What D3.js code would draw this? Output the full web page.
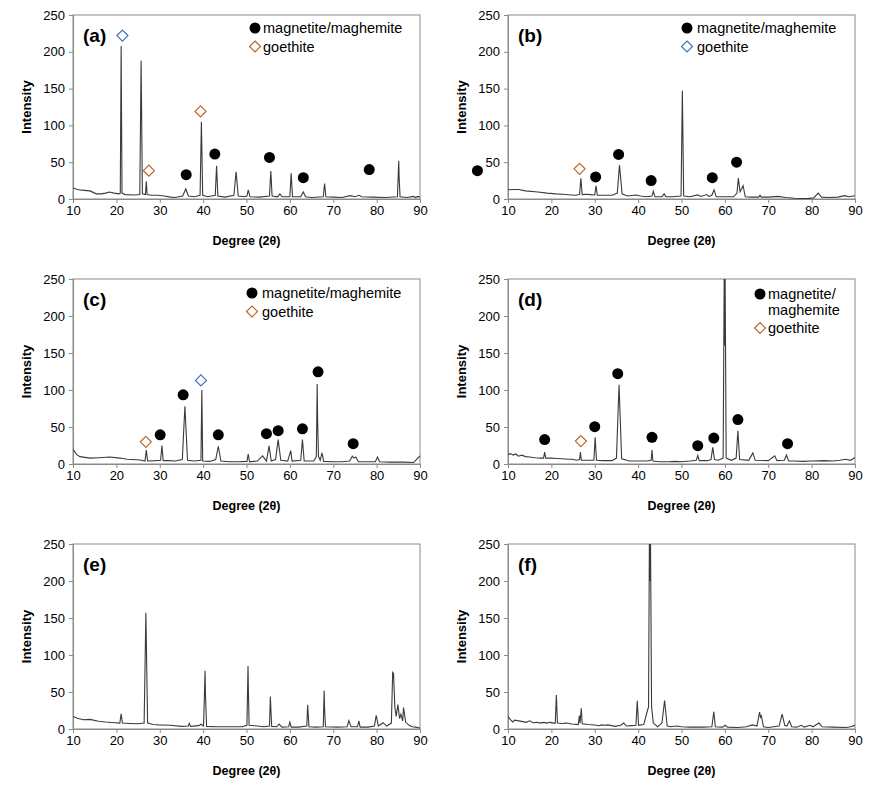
<!DOCTYPE html>
<html><head><meta charset="utf-8">
<script src="https://cdn.jsdelivr.net/npm/d3@7"></script>
<style>
body{margin:0;background:#fff}
svg{display:block}
text{font-family:Arial,"Liberation Sans",sans-serif}
</style>
</head><body>
<svg id="chart" width="878" height="796"></svg>
<script>
// ---------------- DATA ----------------
const panelIds = ["a", "b", "c", "d", "e", "f"];
const xTicks = [10, 20, 30, 40, 50, 60, 70, 80, 90];
const yTicks = [0, 50, 100, 150, 200, 250];
const xTitle = "Degree (2\u03b8)";
const yTitle = "Intensity";
const magLabel = "magnetite/maghemite";
const magLabelLines = ["magnetite/", "maghemite"];
const goeLabel = "goethite";

// XRD patterns: [2theta, intensity]
const patternA = [[10,15],[11,13],[12,12],[13.9,11],[15.4,7],[16.5,7],[17.5,8],[18.4,9.5],[19.5,8],[20.6,7],[20.9,8],[21.1,208],[21.3,8],[22,6],[24,5.5],[25.4,6],[25.7,188],[26,7],[26.7,6],[26.9,24],[27.1,6],[28,5],[29.5,5],[31,4],[32.5,2.5],[33.5,2],[35.3,4],[36,14],[36.6,4],[38,3],[39.3,5],[39.6,105],[39.9,5],[41,3],[42.8,5],[43.1,45],[43.4,4],[45,2.5],[47.1,5],[47.6,37],[48.1,4],[49.5,3],[50.1,4],[50.4,12.5],[50.8,3],[53,2.5],[55.3,4],[55.6,38],[55.9,4],[57.2,3],[57.7,7],[58.2,3],[60,3],[60.3,35],[60.6,3],[62.5,3],[63.1,9.5],[63.6,3],[65,2],[67.7,3],[68,21],[68.3,3],[70,2.5],[72,2],[73.9,4.5],[75,3],[76,5],[76.5,3],[79,2.5],[82,2],[84.8,3],[85.1,52],[85.2,28],[85.4,3],[87,2],[88.5,3.5],[89,2],[89.5,3.5],[90,2.5]];
const patternB = [[10,12.5],[11,13],[12.5,13],[14,11],[16.9,9.5],[19,8],[21,7],[22.5,6.5],[24.6,5.5],[25.5,5],[26.5,6],[26.8,28],[27.1,6],[28,6.5],[29,6],[30,5.5],[30.3,18],[30.6,5],[32,5],[34,5],[35.2,8],[35.7,46],[36.3,7],[37.5,4],[39.5,5.5],[40.5,4],[42,3],[43.2,4],[43.5,10.5],[43.9,3],[45.5,3],[46,7],[46.4,3],[48,3],[49.9,4],[50.2,147],[50.5,4],[52,3],[53.7,5.5],[54.5,3.5],[55.8,6],[56.3,3.5],[57,5],[57.5,12.5],[58,3],[60,3],[62,3],[62.8,8],[63.1,28.5],[63.5,10],[64.2,18],[64.7,3],[66,2.5],[67.8,2.5],[68.1,5],[68.4,2.5],[70,2.5],[72.3,3.5],[74,2],[76,1],[79,0.5],[80.5,1.5],[81.5,8],[82.3,2.5],[84,2],[86,2.5],[87.7,4.5],[88.5,3],[90,4.5]];
const patternC = [[10,20],[10.8,13],[11.6,10],[13.9,8],[16,8.5],[18.5,9.4],[20.8,8],[22.5,6.5],[24.6,5.8],[25.5,5.5],[26.6,4],[26.9,19],[27.2,4],[29,4.5],[30.2,5],[30.5,25],[30.8,4.5],[32,4.5],[33.5,4],[35.2,6],[35.8,78],[36.4,5],[38,4],[39.5,5],[39.7,100],[39.9,4],[41.5,3.5],[42.9,6],[43.5,24],[44.1,4],[46,3],[48,3],[50.1,3.5],[50.4,13.5],[50.7,3],[52.5,4],[53.7,11],[54.6,4],[55.2,24.5],[55.7,4],[56.7,6],[57.3,33],[57.9,5],[59.5,4],[60.2,18],[60.5,4],[62.5,5],[62.9,33],[63.3,4],[65.5,4],[66.1,10],[66.3,108],[66.4,58],[66.6,10],[67,5],[67.4,15],[67.8,3.5],[70,3],[72,3],[73.8,4],[74.4,10.5],[74.8,8],[75.2,9.5],[75.8,3],[79.7,3],[80.2,9.5],[80.7,3],[83,2.5],[86,2.5],[88.5,2],[90,11]];
const patternD = [[10,12.6],[10.6,14],[11.2,12],[11.8,13.5],[12.4,10.5],[13.2,12],[14,10],[15,9.5],[16.3,8.5],[17.5,8],[18.2,8],[18.45,16],[18.7,8],[20,8],[21.2,7.5],[22.5,7],[24,6.5],[24.8,6.5],[25.8,5],[26.5,6],[26.7,16],[26.9,5],[28,5],[29.8,5],[30.1,36],[30.4,5],[32,4.5],[34,4.5],[35,8],[35.6,107],[36.2,7],[38,4],[40,4],[42,4],[43,5],[43.2,19],[43.4,4],[45,3],[47,3],[48.5,3.5],[50,3],[52,4],[53.4,5],[53.75,11.5],[54.1,4.5],[56,4.5],[56.8,6],[57.2,22.5],[57.6,6],[58.5,5],[59.6,8],[59.85,260],[59.95,160],[60.05,260],[60.3,8],[61.5,5],[62.6,8],[63.0,45],[63.4,6],[65.5,5],[66.45,15],[67,5],[70,4.5],[71.5,11],[72,4.5],[73.7,5],[74.2,12],[74.7,4],[76,4],[78,3.5],[80,4],[83,4.5],[85,4],[86.5,5],[87.8,6.5],[89,5],[90,9]];
const patternE = [[10,17],[11,14.5],[12.4,12.5],[13.9,13],[15.9,10.5],[17.5,9.5],[19.7,8.5],[20.8,8],[21.1,20.6],[21.4,8],[23,7.5],[25,7],[26.4,8],[26.8,157],[27.2,8],[28.5,6],[30,5.5],[32.4,5],[35,3.6],[36.6,4],[36.8,7.6],[37.1,3.5],[39,4.5],[39.5,6.5],[40.1,4],[40.45,78.7],[40.55,45],[40.8,3.5],[43,3],[46,3],[49,3],[50.1,5],[50.35,85],[50.45,48],[50.6,5],[52,4.3],[54,3],[55.3,4],[55.5,44],[55.8,3.5],[57,3],[57.5,6.7],[58.2,2.5],[59.7,3],[60,9.4],[60.3,2.5],[62,2.5],[63.9,4],[64.1,32.8],[64.4,3],[66,2.5],[67.7,3],[67.9,52],[68.0,28],[68.2,3],[71,2.5],[73.2,3],[73.6,11.5],[74.1,3],[75.6,3],[75.9,11],[76.2,2.5],[78,2.5],[79.5,4],[79.9,18.4],[80.4,4],[81.5,8.5],[82.3,4],[83.4,8],[83.7,76.4],[83.9,75],[84.2,30],[84.5,17],[84.9,33],[85.3,14],[85.6,20],[86,11],[86.2,29],[86.7,9],[87.5,5],[88.2,3],[89,2.5],[90,1.4]];
const patternF = [[10,17],[10.5,13],[11.1,9.5],[11.6,12],[12.5,11],[13.4,10],[14.2,9],[15,11],[15.8,8.5],[16.7,9],[17.4,8],[18.2,9],[19,8],[19.7,9],[20.5,8],[20.9,8],[21.15,46],[21.4,8],[22.5,7.5],[23.5,8],[24.7,6.7],[26.2,6],[26.45,18],[26.6,8],[26.9,28],[27.1,7],[28.5,6],[30,5.5],[31,4.5],[31.5,5.5],[32.4,5],[33,5.5],[34.7,3.6],[36,5],[36.7,8],[37.3,4],[38.5,4.5],[39.5,5],[39.8,38],[40.1,5],[41.3,6],[42.1,24],[42.4,30],[42.6,260],[42.7,200],[42.85,260],[43.1,30],[43.5,8],[44.5,3],[45.5,8],[46.1,38.5],[46.7,4],[47.5,3],[49,4],[50,3],[52,2.5],[55,2.5],[57,3],[57.45,23.4],[57.8,3],[59.5,2.5],[60.1,5],[60.6,2.5],[63,2],[65,3],[66.3,5.5],[67.4,4],[68,23],[68.2,16],[68.4,18],[68.9,3],[70,2],[72.5,4],[73.2,20],[73.8,5],[74.3,4],[74.9,11],[75.4,3],[76.5,2.5],[77.6,5],[78.3,2.5],[79.7,5],[80.3,3],[81.7,8],[82.4,3],[85,2.5],[88,2],[89,3],[90,5]];

// magnetite/maghemite markers [2theta, intensity]
const magA = [[36.1,33],[42.7,61],[55.3,56.5],[63.1,29],[78.3,40]];
const magB = [[2.95,38.5],[30.2,30],[35.5,60.5],[43.0,25],[57.1,29],[62.7,50]];
const magC = [[30.1,39.5],[35.4,93.5],[43.5,39.5],[54.6,41],[57.3,45],[62.9,47.5],[66.5,124.5],[74.6,27.5]];
const magD = [[18.45,33],[30.0,50.5],[35.3,122],[43.2,36],[53.75,24.7],[57.45,35],[63.0,60],[74.45,27.5]];
const magE = [];
const magF = [];
// goethite markers [2theta, intensity]
const goeA = [[21.4,222],[27.5,38.5],[39.4,119]];
const goeB = [[26.5,41]];
const goeC = [[26.8,30],[39.5,113]];
const goeD = [[26.8,31]];
const goeE = [];
const goeF = [];

// ---------------- STYLE / LAYOUT ----------------
const patterns = {a: patternA, b: patternB, c: patternC, d: patternD, e: patternE, f: patternF};
const magMarks = {a: magA, b: magB, c: magC, d: magD, e: magE, f: magF};
const goeMarks = {a: goeA, b: goeB, c: goeC, d: goeD, e: goeE, f: goeF};
const ORANGE = "#b8662a", BLUE = "#3b72b8";
const goeTint = {a: [BLUE, ORANGE, ORANGE], b: [ORANGE], c: [ORANGE, BLUE], d: [ORANGE]};
const legendTint = {a: ORANGE, b: BLUE, c: ORANGE, d: ORANGE};
const cols = [{x0: 73, x1: 420, ytx: 26}, {x0: 508, x1: 855, ytx: 461}];
const rows = [{top: 15, bot: 199}, {top: 279, bot: 464}, {top: 544, bot: 729}];
const legendPos = {
  a: {x: 255, y: 28, tx: 263, two: false},
  b: {x: 687, y: 28, tx: 697, two: false},
  c: {x: 252, y: 293, tx: 262, two: false},
  d: {x: 760, y: 294, tx: 768, two: true}
};
const FRAME = "#8a8a8a";

const svg = d3.select("#chart");

function diamondPath(cx, cy, r) {
  return `M${cx},${cy - r}L${cx + r},${cy}L${cx},${cy + r}L${cx - r},${cy}Z`;
}

panelIds.forEach((id, i) => {
  const col = cols[i % 2], row = rows[Math.floor(i / 2)];
  const x = d3.scaleLinear().domain([10, 90]).range([col.x0, col.x1]);
  const y = d3.scaleLinear().domain([0, 250]).range([row.bot, row.top]);
  const g = svg.append("g");

  const clipId = "clip-" + id;
  svg.append("clipPath").attr("id", clipId).append("rect")
    .attr("x", col.x0).attr("y", row.top).attr("width", col.x1 - col.x0).attr("height", row.bot - row.top);

  g.append("rect").attr("x", col.x0).attr("y", row.top)
    .attr("width", col.x1 - col.x0).attr("height", row.bot - row.top)
    .attr("fill", "none").attr("stroke", FRAME).attr("stroke-width", 1);

  const xa = g.append("g").attr("transform", `translate(0,${row.bot})`)
    .call(d3.axisBottom(x).tickValues(xTicks).tickSize(4).tickPadding(3).tickFormat(d3.format("d")));
  const ya = g.append("g").attr("transform", `translate(${col.x0},0)`)
    .call(d3.axisLeft(y).tickValues(yTicks).tickSize(4).tickPadding(4).tickFormat(d3.format("d")));
  [xa, ya].forEach(a => {
    a.select(".domain").attr("stroke", FRAME);
    a.selectAll(".tick line").attr("stroke", FRAME);
    a.selectAll(".tick text").attr("fill", "#000").style("font-size", "13px")
      .style("font-family", "Arial, 'Liberation Sans', sans-serif");
  });

  g.append("text").attr("x", (col.x0 + col.x1) / 2).attr("y", row.bot + 46)
    .attr("text-anchor", "middle").style("font-size", "12.5px").style("font-weight", "bold").text(xTitle);
  g.append("text").attr("transform", `translate(${col.ytx + 4.5},${(row.top + row.bot) / 2}) rotate(-90)`)
    .attr("text-anchor", "middle").style("font-size", "13px").style("font-weight", "bold").text(yTitle);

  const line = d3.line().x(d => x(d[0])).y(d => y(d[1]));
  g.append("path").datum(patterns[id]).attr("clip-path", `url(#${clipId})`)
    .attr("d", line).attr("fill", "none").attr("stroke", "#3a3a3a").attr("stroke-width", 1.1)
    .attr("stroke-linejoin", "miter");

  g.append("text").attr("x", col.x0 + 10).attr("y", row.top + 27)
    .style("font-size", "19px").style("font-weight", "bold").text(`(${id})`);

  g.selectAll("circle.mag").data(magMarks[id]).enter().append("circle")
    .attr("cx", d => x(d[0])).attr("cy", d => y(d[1])).attr("r", 5.5).attr("fill", "#000");
  g.selectAll("path.goe").data(goeMarks[id]).enter().append("path")
    .attr("d", d => diamondPath(x(d[0]), y(d[1]), 5.5))
    .attr("fill", "#fff").attr("stroke", (d, k) => goeTint[id][k]).attr("stroke-width", 1.2);

  const lp = legendPos[id];
  if (lp) {
    g.append("circle").attr("cx", lp.x).attr("cy", lp.y).attr("r", 5.5).attr("fill", "#000");
    let gy;
    if (lp.two) {
      g.append("text").attr("x", lp.tx).attr("y", lp.y + 5).style("font-size", "14.5px").text(magLabelLines[0]);
      g.append("text").attr("x", lp.tx).attr("y", lp.y + 21).style("font-size", "14.5px").text(magLabelLines[1]);
      gy = lp.y + 34;
    } else {
      g.append("text").attr("x", lp.tx).attr("y", lp.y + 5).style("font-size", "14.5px").text(magLabel);
      gy = lp.y + 18.5;
    }
    g.append("path").attr("d", diamondPath(lp.x, gy, 5.5))
      .attr("fill", "#fff").attr("stroke", legendTint[id]).attr("stroke-width", 1.2);
    g.append("text").attr("x", lp.tx).attr("y", gy + 5).style("font-size", "14.5px").text(goeLabel);
  }
});
</script>
</body></html>
